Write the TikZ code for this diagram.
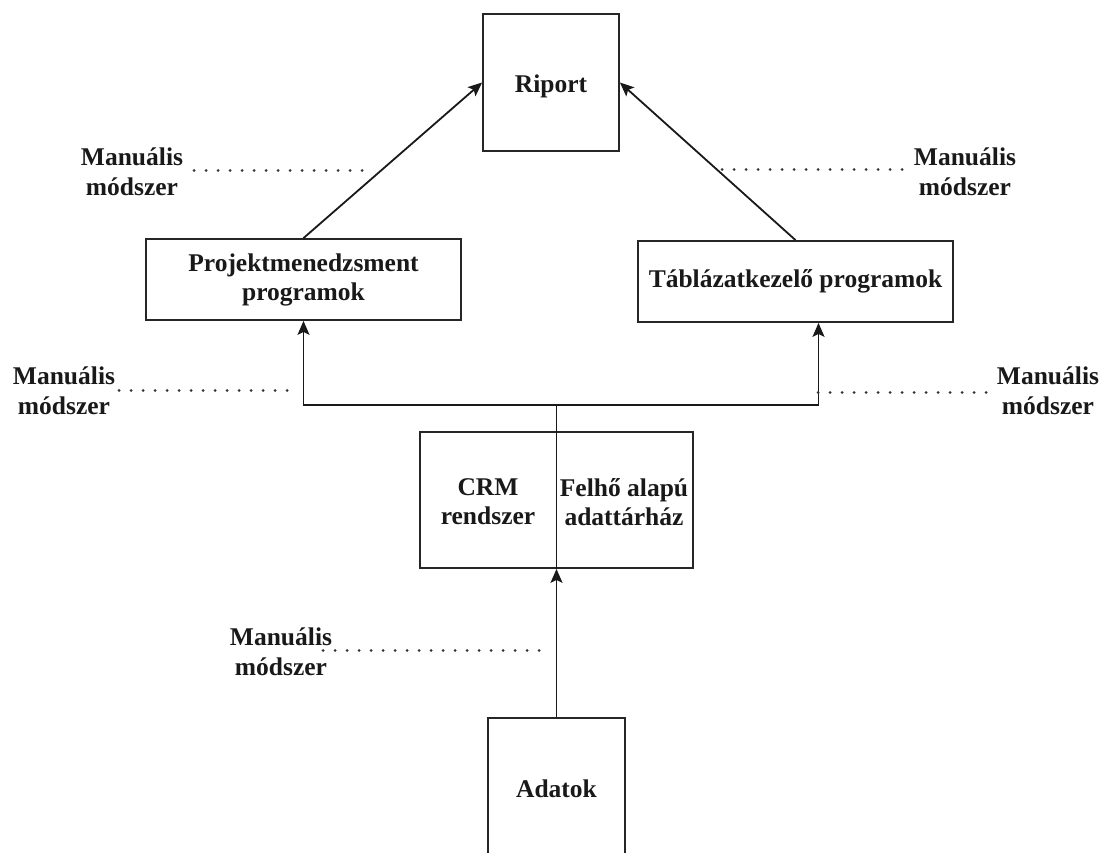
\documentclass[tikz,border=0pt]{standalone}
\usepackage{fontspec}
\setmainfont{Liberation Serif}
\usetikzlibrary{arrows.meta}
\begin{document}
\begin{tikzpicture}[x=1pt,y=-1pt,
  txt/.style={font=\fontsize{25.5}{29}\selectfont\bfseries, align=center, text=black!90},
  box/.style={txt, draw=black!85, line width=1.8pt, inner sep=0pt},
  note/.style={txt, inner sep=0pt, font=\fontsize{25.5}{30.5}\selectfont\bfseries},
  link/.style={draw=black!90, line width=1.8pt},
  arr/.style={link, -{Stealth[length=14pt,width=12pt,inset=3pt]}},
  dots/.style={line width=3pt, dash pattern=on 0.01pt off 12pt, line cap=round, black!80}]
  \clip (0,0) rectangle (1104,853);
  \fill[white] (0,0) rectangle (1104,853);

  % boxes
  \node[box, minimum width=136pt, minimum height=137pt] (riport) at (551,82.5) {};
  \node[txt] (riporttxt) at (551,86) {Riport};
  \node[box, minimum width=315pt, minimum height=81pt] (projekt) at (303.5,279.5)
    {Projektmenedzsment\\programok};
  \node[box, minimum width=315pt, minimum height=81pt] (tabla) at (795.5,281.5)
    {Táblázatkezelő programok};
  \node[box, minimum width=273pt, minimum height=136pt] (crm) at (556.5,500) {};
  \node[txt] (crmtxt) at (488,502) {CRM\\rendszer};
  \node[txt] (felho) at (624,502) {Felhő alapú\\adattárház};
  \node[box, minimum width=137pt, minimum height=142pt] (adatok) at (556.5,789) {Adatok};

  % routing points
  \coordinate (bus) at (556.5,405);
  \coordinate (tin) at ([xshift=23pt]tabla.south);

  % connectors
  \draw[arr] (adatok.north) -- (crm.south);
  \draw[link] (crm.south) -- (bus);
  \draw[arr] (bus) -| (projekt.south);
  \draw[arr] (bus) -| (tin);
  \draw[arr] (projekt.north) -- (riport.west);
  \draw[arr] (tabla.north) -- (riport.east);

  % "manual method" annotations
  \node[note] (m1) at (132,172) {Manuális\\módszer};
  \node[note] (m2) at (965,172) {Manuális\\módszer};
  \node[note] (m3) at (64,391) {Manuális\\módszer};
  \node[note] (m4) at (1048,391) {Manuális\\módszer};
  \node[note] (m5) at (281,652) {Manuális\\módszer};

  \coordinate (d1a) at (194,171); \coordinate (d1b) at (374,171);
  \coordinate (d2a) at (722,170); \coordinate (d2b) at (908,170);
  \coordinate (d3a) at (119,390); \coordinate (d3b) at (299,390);
  \coordinate (d4a) at (818,392); \coordinate (d4b) at (994,392);
  \coordinate (d5a) at (323,650); \coordinate (d5b) at (545,650);
  \draw[dots] (d1a) -- (d1b);
  \draw[dots] (d2a) -- (d2b);
  \draw[dots] (d3a) -- (d3b);
  \draw[dots] (d4a) -- (d4b);
  \draw[dots] (d5a) -- (d5b);
\end{tikzpicture}
\end{document}
